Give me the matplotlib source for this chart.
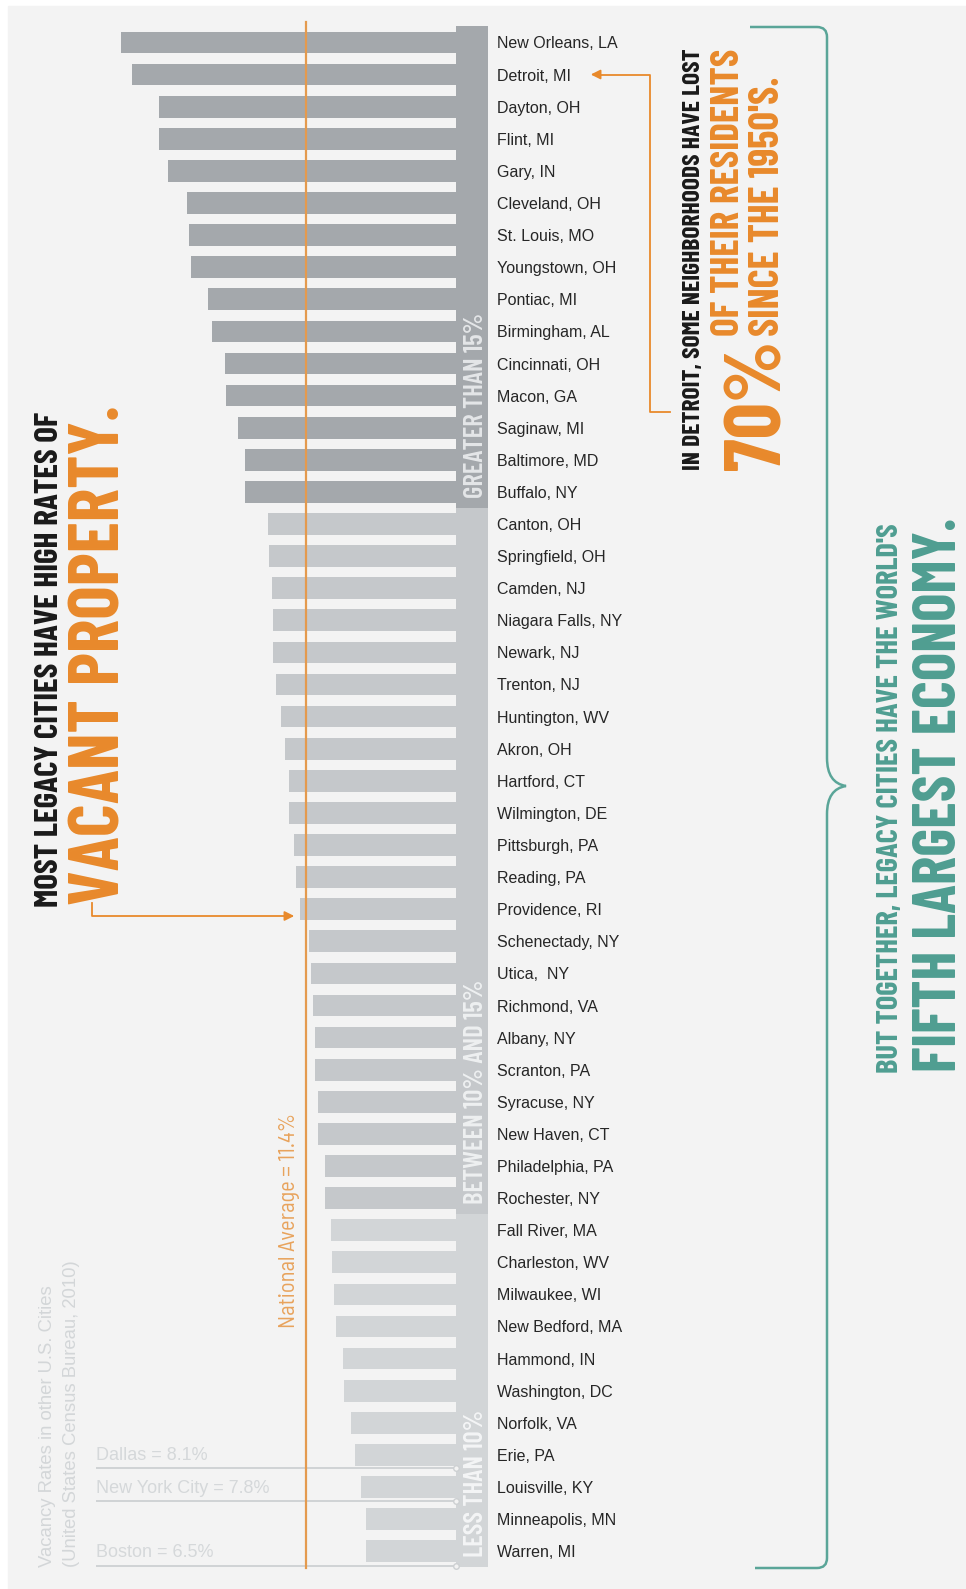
import matplotlib
matplotlib.use("Agg")
import matplotlib.pyplot as plt
from matplotlib.patches import Rectangle, PathPatch
from matplotlib.path import Path

plt.rcParams["font.family"] = ["Liberation Sans", "DejaVu Sans"]
# condensed display faces for the headlines
HEAD = ["Barlow Condensed", "DejaVu Sans"]
SEMI = ["Barlow Semi Condensed", "Liberation Sans", "DejaVu Sans"]

# data
cities = [
    "New Orleans, LA", "Detroit, MI", "Dayton, OH", "Flint, MI", "Gary, IN",
    "Cleveland, OH", "St. Louis, MO", "Youngstown, OH", "Pontiac, MI",
    "Birmingham, AL", "Cincinnati, OH", "Macon, GA", "Saginaw, MI",
    "Baltimore, MD", "Buffalo, NY", "Canton, OH", "Springfield, OH",
    "Camden, NJ", "Niagara Falls, NY", "Newark, NJ", "Trenton, NJ",
    "Huntington, WV", "Akron, OH", "Hartford, CT", "Wilmington, DE",
    "Pittsburgh, PA", "Reading, PA", "Providence, RI", "Schenectady, NY",
    "Utica,  NY", "Richmond, VA", "Albany, NY", "Scranton, PA", "Syracuse, NY",
    "New Haven, CT", "Philadelphia, PA", "Rochester, NY", "Fall River, MA",
    "Charleston, WV", "Milwaukee, WI", "New Bedford, MA", "Hammond, IN",
    "Washington, DC", "Norfolk, VA", "Erie, PA", "Louisville, KY",
    "Minneapolis, MN", "Warren, MI",
]
vacancy = [
    25.5, 24.7, 22.6, 22.6, 21.9, 20.5, 20.3, 20.2, 18.9, 18.6, 17.6, 17.5,
    16.6, 16.1, 16.1, 14.3, 14.2, 14.0, 13.9, 13.9, 13.7, 13.3, 13.0, 12.7,
    12.7, 12.3, 12.2, 11.9, 11.2, 11.0, 10.9, 10.7, 10.7, 10.5, 10.5, 10.0,
    10.0, 9.5, 9.4, 9.3, 9.1, 8.6, 8.5, 8.0, 7.7, 7.2, 6.8, 6.8,
]
groups = ["GREATER THAN 15%", "BETWEEN 10% AND 15%", "LESS THAN 10%"]
group_sizes = [15, 22, 11]
nat_avg = 11.4
other_labels = ["Dallas = 8.1%", "New York City = 7.8%", "Boston = 6.5%"]
other_rows = [44.4, 45.45, 47.45]

# colours
bar_colors = ["#a4a8ac", "#c5c8cb", "#d2d5d7"]
band_text_colors = ["#e4e6e8", "#eef0f1", "#f4f5f6"]
orange = "#e8892b"
teal = "#4f9e91"
bg = "#f3f3f3"

W, H = 966, 1589
fig = plt.figure(figsize=(W / 100, H / 100), dpi=100)
fig.patch.set_facecolor("white")
fig.add_artist(Rectangle((8 / W, 0), 1 - 8 / W, 1 - 6 / H, transform=fig.transFigure,
                         color=bg, zorder=-10))
renderer = fig.canvas.get_renderer()


def fit(t, length):
    # scale font so the rotated text spans `length` pixels
    bb = t.get_window_extent(renderer=renderer)
    t.set_fontsize(t.get_fontsize() * length / bb.height)
    return t


def vtext(x, y, s, length, **kw):
    # x = baseline position, y = where the text starts (reads upward)
    t = fig.text(x / W, 1 - y / H, s, rotation=90, rotation_mode="anchor", ha="left",
                 va="baseline", fontweight="bold", family=HEAD, **kw)
    return fit(t, length)


# bar axes: 13.11 px per %, zero at x=455.6 px, rows every 32.1 px
px_per = 13.11
x0 = 455.6
ax = fig.add_axes([90 / W, 1 - 1580 / H, (488 - 90) / W, (1580 - 10) / H])
ax.set_xlim((x0 - 90) / px_per, -(488 - x0) / px_per)
ax.set_ylim((1580 - 42.5) / 32.1, (10 - 42.5) / 32.1)
ax.patch.set_alpha(0)
for s in ax.spines.values():
    s.set_visible(False)
ax.set_xticks([])

rows = list(range(len(cities)))
colors = []
for g, n in enumerate(group_sizes):
    colors += [bar_colors[g]] * n
ax.barh(rows, vacancy, height=0.675, color=colors, zorder=2)

# group bands with labels
band_w = ax.get_xlim()[1]
start = 0
band_texts = []
for g, n in enumerate(group_sizes):
    ax.add_patch(Rectangle((0, start - 0.5), band_w, n, color=bar_colors[g], lw=0, zorder=2))
    t = ax.text(band_w * 0.85, start + n - 0.5 - 0.32, groups[g], rotation=90,
                rotation_mode="anchor", ha="left", va="baseline",
                color=band_text_colors[g], family=HEAD, fontweight="semibold",
                fontsize=14, zorder=3)
    band_texts.append(t)
    start += n
fit(band_texts[1], 223)
for t in band_texts:
    t.set_fontsize(band_texts[1].get_fontsize())

ax.set_yticks(rows, cities)
ax.yaxis.tick_right()
ax.tick_params(axis="y", length=0, pad=6.5, labelsize=11.5, labelcolor="#262626")

# national average
ax.axvline(nat_avg, ymin=0.0076, ymax=0.9924, color="#e49a4e", lw=1.6, zorder=4)
t = ax.annotate("National Average = 11.4%", xy=(nat_avg, 40.05), xytext=(-12, 0),
                textcoords="offset points", rotation=90, ha="center", va="bottom",
                color="#e8a35c", fontsize=12, family=SEMI)
fit(t, 216)

# other cities reference lines
ax.hlines(other_rows, 0, (x0 - 96) / px_per, color="#cdd0d2", lw=1.3, zorder=1)
ax.plot([0] * len(other_rows), other_rows, "o", ms=4, mfc=bg, mec="#cdd0d2", zorder=3)
for lbl, r in zip(other_labels, other_rows):
    ax.annotate(lbl, xy=((x0 - 96) / px_per, r), xytext=(0, 3), textcoords="offset points",
                ha="left", va="bottom", color="#d5d8da", fontsize=13)

t1 = fig.text(48 / W, 1 - 1567 / H, "Vacancy Rates in other U.S. Cities", rotation=90,
              ha="center", va="bottom", color="#d3d6d8")
t2 = fig.text(72 / W, 1 - 1567 / H, "(United States Census Bureau, 2010)", rotation=90,
              ha="center", va="bottom", color="#d3d6d8")
fit(t2, 309)
t1.set_fontsize(t2.get_fontsize())

# overlay for arrows and bracket (pixel coords)
ov = fig.add_axes([0, 0, 1, 1])
ov.set_xlim(0, W)
ov.set_ylim(H, 0)
ov.axis("off")
ov.patch.set_alpha(0)

# left title arrow
ov.plot([92, 92, 288], [903, 916, 916], color=orange, lw=1.3)
ov.annotate("", xy=(297, 916), xytext=(285, 916),
            arrowprops=dict(arrowstyle="-|>", color=orange, lw=1.3, mutation_scale=14))
# detroit arrow
ov.plot([670, 650, 650, 598], [412, 412, 74.5, 74.5], color=orange, lw=1.3)
ov.annotate("", xy=(588, 74.5), xytext=(600, 74.5),
            arrowprops=dict(arrowstyle="-|>", color=orange, lw=1.3, mutation_scale=14))

# teal brace
verts = [(750, 27), (817, 27), (827, 27), (827, 37), (827, 758), (827, 783), (846, 786),
         (827, 789), (827, 814), (827, 1558), (827, 1568), (817, 1568), (755, 1568)]
codes = [Path.MOVETO, Path.LINETO, Path.CURVE3, Path.CURVE3, Path.LINETO, Path.CURVE3,
         Path.CURVE3, Path.CURVE3, Path.CURVE3, Path.LINETO, Path.CURVE3, Path.CURVE3,
         Path.LINETO]
ov.add_patch(PathPatch(Path(verts, codes), fill=False, ec="#5aa598", lw=1.8))

# headline texts
vtext(58, 907, "MOST LEGACY CITIES HAVE HIGH RATES OF", 497, color="#1a1a1a")
vtext(119, 905, "VACANT PROPERTY.", 502, color=orange)

vtext(700, 470, "IN DETROIT, SOME NEIGHBORHOODS HAVE LOST", 422, color="#1a1a1a")
vtext(780, 470, "70%", 130, color=orange)
vtext(739, 336, "OF THEIR RESIDENTS", 288, color=orange)
vtext(779, 336, "SINCE THE 1950'S.", 260, color=orange)

vtext(898, 1073, "BUT TOGETHER, LEGACY CITIES HAVE THE WORLD'S", 551, color=teal)
vtext(956, 1072, "FIFTH LARGEST ECONOMY.", 557, color=teal)

plt.savefig("out.png", dpi=100)
